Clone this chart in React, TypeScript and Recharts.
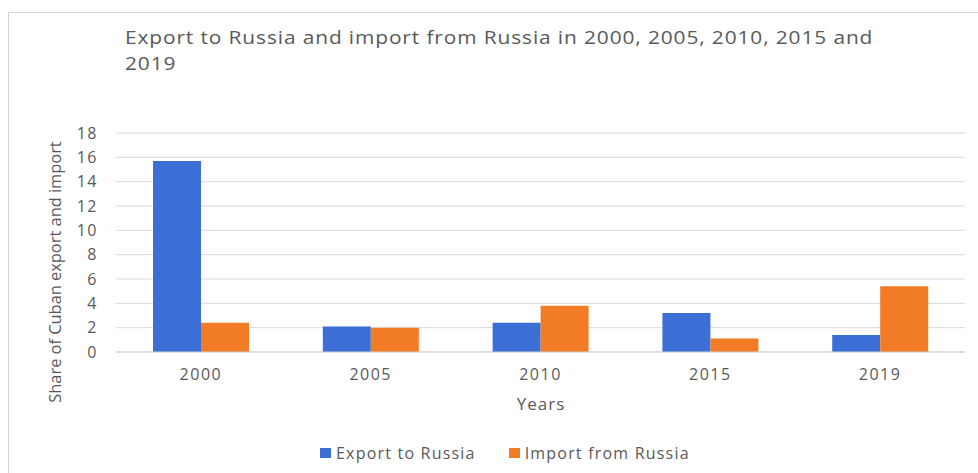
import React from 'react';
import { BarChart, Bar, XAxis, YAxis, CartesianGrid } from 'recharts';

const years = ['2000', '2005', '2010', '2015', '2019'];
const exportShare = [15.7, 2.1, 2.4, 3.2, 1.4];
const importShare = [2.4, 2.0, 3.8, 1.1, 5.4];
const yTicks = [0, 2, 4, 6, 8, 10, 12, 14, 16, 18];

const seriesNames = ['Export to Russia', 'Import from Russia'];
const seriesColors = ['#3b6fd6', '#f27b25'];
const titleLines = ['Export to Russia and import from Russia in 2000, 2005, 2010, 2015 and', '2019'];

const data = years.map((y, i) => ({ year: y, exp: exportShare[i], imp: importShare[i] }));

const textColor = '#595959';
const font = '"Open Sans", sans-serif';

export default function App() {
  return (
    <div style={{ position: 'absolute', left: 0, top: 0, width: 978, height: 473, background: '#fff', overflow: 'hidden' }}>
      <div style={{ position: 'absolute', left: 8, top: 12, width: 978, height: 473, borderTop: '1px solid #d4d4d4', borderLeft: '1px solid #d4d4d4' }} />
      <div style={{ position: 'absolute', left: 125, top: 25, transform: 'scaleX(1.1)', transformOrigin: '0 0', fontFamily: font, fontSize: 19, letterSpacing: 0.8, lineHeight: '25px', color: textColor, whiteSpace: 'nowrap' }}>
        {titleLines.map((t) => (
          <div key={t} style={{ height: 25.5 }}>{t}</div>
        ))}
      </div>
      <div style={{ position: 'absolute', left: 54, top: 272, width: 0, height: 0 }}>
        <div style={{ position: 'absolute', transform: 'translate(-50%, -50%) rotate(-90deg)', fontFamily: font, fontSize: 16.4, color: textColor, whiteSpace: 'nowrap' }}>
          Share of Cuban export and import
        </div>
      </div>
      <div style={{ position: 'absolute', left: 541, top: 403, width: 0, height: 0 }}>
        <div style={{ position: 'absolute', transform: 'translate(-50%, -50%)', fontFamily: font, fontSize: 17, letterSpacing: 1, color: textColor, whiteSpace: 'nowrap' }}>
          Years
        </div>
      </div>
      <div style={{ position: 'absolute', left: 320, top: 442, display: 'flex', fontFamily: font, fontSize: 16, letterSpacing: 1.2, color: textColor, lineHeight: '22px' }}>
        {seriesNames.map((n, i) => (
          <div key={n} style={{ display: 'flex', alignItems: 'center', marginRight: i === 0 ? 33 : 0 }}>
            <span style={{ display: 'inline-block', width: 11, height: 10, background: seriesColors[i], marginRight: 5 }} />
            <span>{n}</span>
          </div>
        ))}
      </div>
      <div style={{ position: 'absolute', left: 0, top: 0 }}>
        <BarChart width={978} height={473} data={data} margin={{ top: 133, right: 13, bottom: 91, left: 0 }} barCategoryGap="21.8%" barGap={0}>
          <CartesianGrid vertical={false} stroke="#d9d9d9" />
          <XAxis dataKey="year" height={30} axisLine={{ stroke: '#d0d0d0' }} tickLine={false} tickSize={0} tickMargin={17} tick={{ fill: textColor, fontSize: 16, fontFamily: font, letterSpacing: 1.5 }} />
          <YAxis width={116} domain={[0, 18]} ticks={yTicks} axisLine={false} tickLine={false} tickSize={0} tickMargin={18} interval={0} tick={{ fill: textColor, fontSize: 16, fontFamily: font, letterSpacing: 1.5 }} />
          <Bar dataKey="exp" name={seriesNames[0]} fill={seriesColors[0]} isAnimationActive={false} />
          <Bar dataKey="imp" name={seriesNames[1]} fill={seriesColors[1]} isAnimationActive={false} />
        </BarChart>
      </div>
    </div>
  );
}
